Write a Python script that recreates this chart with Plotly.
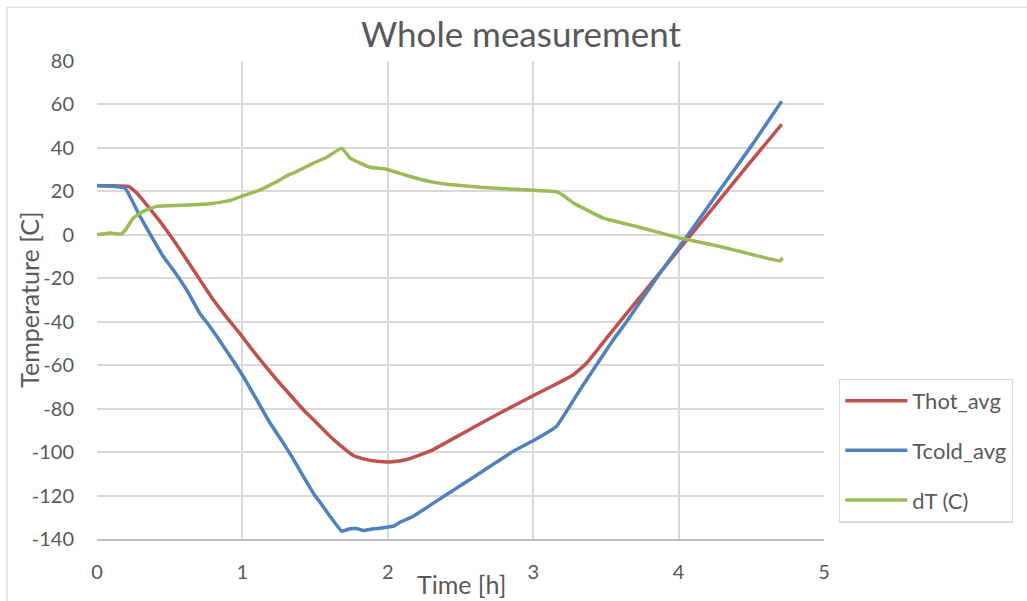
import plotly.graph_objects as go

# ---- data ----
t_hot = [0.0, 0.10, 0.216, 0.273, 0.342, 0.433, 0.525, 0.617, 0.708, 0.80, 0.892, 0.983,
         1.052, 1.144, 1.236, 1.327, 1.419, 1.511, 1.602, 1.694, 1.763, 1.832, 1.924, 2.03,
         2.13, 2.29, 2.52, 2.749, 3.012, 3.184, 3.276, 3.368, 3.528, 3.757, 4.01, 4.216,
         4.468, 4.709]
hot = [22.6, 22.6, 22.3, 19.2, 13.8, 6.2, -2.3, -11.5, -20.7, -29.9, -38.0, -45.5,
       -51.6, -59.3, -66.7, -73.6, -80.5, -86.6, -92.7, -98.1, -101.6, -103.1, -104.2, -104.5,
       -103.4, -99.6, -91.2, -82.8, -73.6, -67.8, -64.4, -59.0, -45.6, -26.8, -6.1, 10.7,
       31.4, 50.8]

t_cold = [0.0, 0.10, 0.193, 0.296, 0.388, 0.456, 0.525, 0.617, 0.708, 0.777, 0.88, 1.006,
          1.098, 1.19, 1.281, 1.338, 1.418, 1.487, 1.545, 1.602, 1.683, 1.74, 1.786, 1.832,
          1.90, 1.946, 1.99, 2.038, 2.084, 2.175, 2.405, 2.634, 2.863, 3.012, 3.161, 3.322,
          3.413, 3.551, 3.643, 3.872, 4.056, 4.285, 4.514, 4.709]
cold = [22.7, 22.4, 21.5, 8.5, -2.3, -10.0, -16.2, -25.4, -36.2, -42.3, -52.3, -65.2,
        -75.9, -86.6, -95.8, -101.9, -111.1, -118.8, -124.1, -129.5, -136.4, -135.3, -135.2, -136.1,
        -135.3, -135.0, -134.6, -134.1, -132.3, -129.5, -119.5, -109.6, -99.6, -94.3, -88.1, -71.3,
        -62.1, -48.3, -39.9, -17.6, -0.8, 20.7, 42.2, 61.5]

t_dT = [0.0, 0.089, 0.17, 0.204, 0.25, 0.318, 0.41, 0.502, 0.663, 0.777, 0.915, 1.006,
        1.121, 1.259, 1.327, 1.35, 1.488, 1.58, 1.683, 1.74, 1.81, 1.877, 1.99, 2.13, 2.29,
        2.405, 2.634, 2.863, 3.0, 3.16, 3.22, 3.276, 3.482, 3.712, 4.01, 4.285, 4.514,
        4.697, 4.715]
dT = [0.0, 0.8, 0.4, 3.1, 7.7, 10.8, 13.1, 13.4, 13.8, 14.3, 15.8, 18.0,
      20.7, 25.3, 27.9, 28.4, 33.0, 35.7, 39.9, 35.3, 33.0, 31.1, 30.2, 27.3, 24.5,
      23.3, 21.9, 21.0, 20.5, 19.9, 17.5, 14.6, 7.7, 3.8, -1.5, -5.4, -9.2,
      -12.0, -10.6]

series_names = ["Thot_avg", "Tcold_avg", "dT (C)"]
colors = ["#C0504D", "#4F81BD", "#9BBB59"]

title_text = "Whole measurement"
x_title = "Time [h]"
y_title = "Temperature [C]"
x_ticks = [0, 1, 2, 3, 4, 5]
y_ticks = [80, 60, 40, 20, 0, -20, -40, -60, -80, -100, -120, -140]
y_tick_labels = ["80", "60", "40", "20", "0", "-20", "-40", "-60", "-80", "-100", "-120", "-140"]

FONT = "Lato, Carlito, 'Open Sans', sans-serif"
TXT = "#595959"
GRID = "#D9D9D9"

fig = go.Figure()
for i, (xs, ys) in enumerate([(t_hot, hot), (t_cold, cold), (t_dT, dT)]):
    fig.add_trace(go.Scatter(
        x=xs, y=ys, mode="lines", name=series_names[i],
        legendgroup=series_names[i],
        line=dict(color=colors[i], width=3.5, shape="spline", smoothing=0.3),
    ))

W, H = 1027, 601
L, R, T, B = 97, 824, 61, 539.5

def px(x):
    return (x - L) / (R - L)

def py(y):
    return (B - y) / (B - T)

fig.update_layout(
    width=W, height=H,
    margin=dict(l=L, r=W - R, t=T, b=H - B),
    paper_bgcolor="white", plot_bgcolor="white",
    font=dict(family=FONT, color=TXT, size=20),
    title=dict(text=title_text, x=521 / W, y=1 - 35 / H, xanchor="center", yanchor="middle",
               xref="container", yref="container", font=dict(size=35, color=TXT, family=FONT)),
    showlegend=True,
    legend=dict(x=px(839), y=py(379), xanchor="left", yanchor="top",
                bordercolor=GRID, borderwidth=1.3, bgcolor="white",
                font=dict(size=22, color=TXT, family=FONT),
                tracegroupgap=18, itemwidth=62, entrywidth=200,
                traceorder="grouped"),
    xaxis=dict(range=[0, 5], tickvals=x_ticks, showgrid=True, gridcolor=GRID, gridwidth=1.5,
               zeroline=False, showline=True, linecolor="#BFBFBF", linewidth=1.5, mirror=False,
               ticks="", ticklabelstandoff=14, tickfont=dict(size=20, color=TXT)),
    yaxis=dict(range=[-140, 80], tickvals=y_ticks, ticktext=y_tick_labels, showgrid=True,
               gridcolor=GRID, gridwidth=1.5,
               zeroline=False, showline=False, ticks="", ticklabelstandoff=22,
               tickfont=dict(size=20, color=TXT)),
    annotations=[
        dict(text=y_title, x=px(29), y=py(300), xref="paper", yref="paper", textangle=-90,
             showarrow=False, xanchor="center", yanchor="middle", font=dict(size=25, color=TXT)),
        dict(text=x_title, x=px(461), y=py(585), xref="paper", yref="paper",
             showarrow=False, xanchor="center", yanchor="middle", font=dict(size=25, color=TXT)),
    ],
    shapes=[
        dict(type="rect", xref="paper", yref="paper", x0=px(7), x1=px(1060), y0=py(7), y1=py(640),
             line=dict(color=GRID, width=1.3), fillcolor="rgba(0,0,0,0)", layer="below"),
    ],
)

fig.write_html("out.html")
